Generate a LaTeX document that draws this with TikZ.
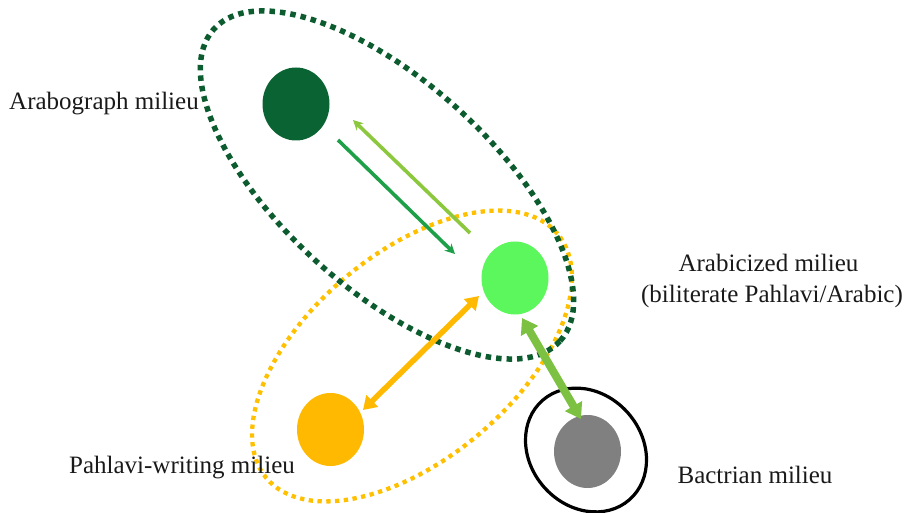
\documentclass[tikz,border=0pt]{standalone}
\usepackage{fontspec}
\setmainfont{Liberation Serif}
\usetikzlibrary{arrows.meta,shapes.geometric}

\definecolor{graphgreen}{RGB}{10,99,50}
\definecolor{ringgreen}{RGB}{12,92,48}
\definecolor{brightgreen}{RGB}{92,247,92}
\definecolor{midgreen}{RGB}{30,160,72}
\definecolor{lightarrow}{RGB}{140,200,62}
\definecolor{linkgreen}{RGB}{125,193,67}
\definecolor{amber}{RGB}{255,185,0}
\definecolor{ringamber}{RGB}{255,192,0}
\definecolor{stone}{RGB}{128,128,128}
\definecolor{ink}{RGB}{25,25,25}

\begin{document}
\begin{tikzpicture}[x=1pt,y=1pt,
  blob/.style={ellipse, draw=none, inner sep=0pt, minimum width=67pt, minimum height=73pt},
  lbl/.style={font=\fontsize{25}{29}\selectfont, text=ink, inner sep=0pt},
  greenring/.style={draw=ringgreen, line width=5.5pt, dash pattern=on 5.5pt off 5pt},
  amberring/.style={draw=ringamber, line width=4.3pt, dash pattern=on 4.3pt off 4.5pt},
  thinarrow/.style={line width=3.6pt, -{Stealth[length=10pt,width=10pt]}},
]
\useasboundingbox (0,0) rectangle (905,-513);

% milieu groupings
\coordinate (graphc) at (387,-185);
\coordinate (pahc) at (412,-356);
\coordinate (bacc) at (586,-450);
\draw[amberring, rotate around={40:(pahc)}] (pahc) ellipse [x radius=190pt, y radius=103pt];
\draw[greenring, rotate around={-42:(graphc)}] (graphc) ellipse [x radius=233pt, y radius=104pt];
\draw[black, line width=3.2pt, rotate around={-49:(bacc)}] (bacc) ellipse [x radius=66pt, y radius=56pt];

% milieux
\node[blob, fill=graphgreen] (arabograph) at (296,-104) {};
\node[blob, fill=brightgreen] (arabicized) at (515,-278) {};
\node[blob, fill=amber] (pahlavi) at (330.5,-429.5) {};
\node[blob, fill=stone] (bactrian) at (587.5,-451.5) {};

% arrow end points
\coordinate (g1s) at (338,-140);
\coordinate (g1e) at (455,-254);
\coordinate (g2s) at (470,-233);
\coordinate (g2e) at (353,-120);
\coordinate (o1) at (363,-410);
\coordinate (o2) at (479,-296);
\coordinate (b1) at (522,-318);
\coordinate (b2) at (581,-419);

\draw[thinarrow, midgreen] (g1s) -- (g1e);
\draw[thinarrow, lightarrow] (g2s) -- (g2e);
\draw[amber, line width=5.5pt, {Triangle[length=13pt,width=16pt]}-{Triangle[length=13pt,width=16pt]}] (o1) -- (o2);
\draw[linkgreen, line width=8pt, {Triangle[length=15pt,width=19pt]}-{Triangle[length=15pt,width=19pt]}] (b1) -- (b2);

% labels
\node[lbl, anchor=base west] (lgraph) at (9,-109.5) {Arabograph milieu};
\node[lbl, anchor=base] (lcized) at (768.5,-272) {Arabicized milieu};
\node[lbl, anchor=base] (lbilit) at (772,-302) {(biliterate Pahlavi/Arabic)};
\node[lbl, anchor=base] (lpah) at (182,-473) {Pahlavi-writing milieu};
\node[lbl, anchor=base] (lbac) at (755,-483) {Bactrian milieu};
\end{tikzpicture}
\end{document}
